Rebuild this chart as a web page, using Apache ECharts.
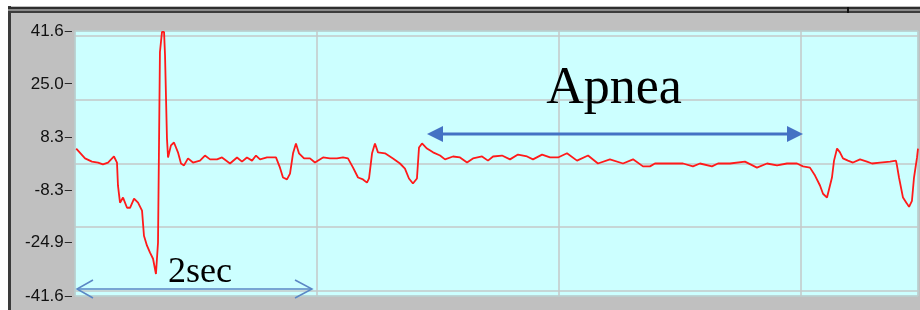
<!DOCTYPE html>
<html>
<head>
<meta charset="utf-8">
<script src="https://cdn.jsdelivr.net/npm/echarts@6/dist/echarts.min.js"></script>
<style>
  body { margin: 0; background: #fff; }
  #frame { position: absolute; left: 8px; top: 6px; width: 912px; height: 304px; background: #c0c0c0; border-left: 3px solid #3a3a3a; box-sizing: border-box; }
  #bar { position: absolute; left: 8px; top: 7px; width: 912px; height: 6px; background: #8a8a8a; border-top: 2px solid #2e2e2e; border-bottom: 2px solid #3c3c3c; box-sizing: border-box; }
  #cut { position: absolute; left: 847px; top: 7px; width: 2px; height: 6px; background: #111; }
  #main { position: absolute; left: 0; top: 0; width: 920px; height: 310px; }
</style>
</head>
<body>
<div id="frame"></div>
<div id="bar"></div>
<div id="cut"></div>
<div id="main"></div>
<script>
// time in seconds, signal
const times = [0.01, 0.025, 0.083, 0.140, 0.190, 0.231, 0.273, 0.322, 0.347, 0.355, 0.372, 0.397, 0.430, 0.455, 0.488, 0.521, 0.554, 0.570, 0.595, 0.620,
  0.645, 0.669, 0.686, 0.694, 0.702, 0.719, 0.736, 0.744, 0.760, 0.769, 0.793, 0.818, 0.851, 0.876, 0.901, 0.934, 0.975, 1.033, 1.074, 1.116,
  1.174, 1.215, 1.281, 1.339, 1.380, 1.421, 1.463, 1.496, 1.529, 1.587, 1.661, 1.694, 1.719, 1.752, 1.777, 1.802, 1.826, 1.851, 1.893, 1.942,
  1.983, 2.050, 2.107, 2.165, 2.215, 2.256, 2.298, 2.339, 2.380, 2.413, 2.430, 2.455, 2.479, 2.504, 2.562, 2.628, 2.686, 2.727, 2.760, 2.793,
  2.826, 2.843, 2.868, 2.909, 2.959, 3.017, 3.058, 3.124, 3.182, 3.240, 3.289, 3.364, 3.413, 3.455, 3.529, 3.595, 3.661, 3.736, 3.785, 3.860,
  3.926, 3.992, 4.066, 4.149, 4.240, 4.322, 4.421, 4.529, 4.612, 4.694, 4.752, 4.793, 4.917, 5.025, 5.107, 5.165, 5.264, 5.314, 5.413, 5.537,
  5.636, 5.719, 5.802, 5.884, 5.967, 6.017, 6.074, 6.116, 6.157, 6.182, 6.215, 6.231, 6.256, 6.273, 6.298, 6.322, 6.347, 6.388, 6.430, 6.488,
  6.545, 6.587, 6.653, 6.736, 6.785, 6.793, 6.810, 6.843, 6.876, 6.893, 6.917, 6.934, 6.959, 6.967];
const values = [4.7, 4.4, 1.6, 0.6, 0.3, -0.3, 0.3, 2.2, 0.3, -6.9, -12.3, -10.7, -13.9, -13.9, -11.0, -12.3, -14.8, -22.7, -25.8, -28.0,
  -29.9, -34.7, -24.9, 4.7, 35.0, 41.3, 41.3, 34.0, 7.9, 1.9, 5.7, 6.6, 3.5, 0.0, -0.6, 1.6, 0.3, 0.9, 2.5, 1.3,
  1.3, 1.9, 0.0, 1.9, 0.6, 1.9, 0.9, 2.5, 1.3, 1.9, 1.9, -1.3, -4.4, -5.0, -3.2, 3.2, 6.3, 3.2, 1.6, 1.6,
  0.3, 1.9, 1.6, 1.6, 1.9, 1.6, -1.3, -4.4, -5.0, -6.0, -4.7, 3.2, 6.3, 3.5, 3.2, 1.6, 0.0, -1.6, -4.7, -6.3,
  -4.7, 5.0, 6.3, 4.7, 3.5, 2.5, 1.3, 2.2, 1.9, 0.3, 1.6, 2.2, 0.9, 2.2, 2.5, 1.3, 2.8, 2.2, 1.3, 2.8,
  1.9, 1.9, 3.2, 0.9, 2.5, 0.0, 1.3, 0.0, 1.3, -0.9, -0.9, 0.0, 0.0, 0.0, -0.9, 0.0, -0.9, 0.0, 0.0, 0.6,
  -1.3, 0.0, -0.6, 0.0, 0.0, -0.9, -1.3, -3.8, -6.9, -9.5, -10.7, -10.1, -4.4, 0.9, 4.7, 3.5, 1.6, 0.9, 0.3, 1.3,
  0.6, 0.0, 0.3, 0.6, 0.9, -0.6, -4.4, -10.7, -12.6, -13.6, -11.7, -4.4, 1.9, 4.7];
const yTicks = [-41.6, -24.9, -8.3, 8.3, 25.0, 41.6];
const yLabels = ['-41.6', '-24.9', '-8.3', '8.3', '25.0', '41.6'];

const myChart = echarts.init(document.getElementById('main'));

const blue = '#4472c4';
const thin = '#5b87c5';

const option = {
  animation: false,
  grid: {
    left: 75, right: 2, top: 31, bottom: 14,
    show: true,
    backgroundColor: '#ccffff',
    borderColor: '#7ff5f5',
    borderWidth: 1
  },
  xAxis: {
    type: 'value',
    min: 0,
    max: 6.967,
    interval: 2,
    axisLine: {show: false},
    axisTick: {show: false},
    axisLabel: {show: false},
    splitLine: {lineStyle: {color: '#c4c8c8', width: 1.5}}
  },
  yAxis: {
    type: 'value',
    min: -41.6,
    max: 41.6,
    axisLine: {show: false},
    axisTick: {show: false},
    axisLabel: {
      customValues: yTicks,
      margin: 3,
      color: '#000',
      fontFamily: 'Liberation Sans',
      fontSize: 17,
      // the little dash after each number is the tick mark
      formatter: (v) => '{n|' + yLabels[yTicks.indexOf(v)] + '}{t|–}',
      rich: {
        n: {fontFamily: 'Liberation Sans', fontSize: 17, color: '#111'},
        t: {fontFamily: 'Liberation Sans', fontSize: 13, color: '#111', padding: [0, 0, 0, 1]}
      }
    },
    splitLine: {lineStyle: {color: '#c4c8c8', width: 1.5}}
  },
  series: [{
    type: 'line',
    data: times.map((t, i) => [t, values[i]]),
    showSymbol: false,
    lineStyle: {color: '#ff1a1a', width: 1.8},
    z: 3
  }],
  graphic: [
    // Apnea
    {type: 'text', z: 20,
      style: {text: 'Apnea', x: 614, y: 89, fontFamily: 'Liberation Serif', fontSize: 52, fill: '#000', align: 'center', verticalAlign: 'middle'}},
    {type: 'line', z: 20, shape: {x1: 438, y1: 134, x2: 792, y2: 134}, style: {stroke: blue, lineWidth: 3}},
    {type: 'polygon', z: 20, shape: {points: [[427, 134], [443, 126], [443, 142]]}, style: {fill: blue}},
    {type: 'polygon', z: 20, shape: {points: [[803, 134], [787, 126], [787, 142]]}, style: {fill: blue}},
    // 2sec
    {type: 'text', z: 20,
      style: {text: '2sec', x: 200, y: 273, fontFamily: 'Liberation Serif', fontSize: 36, fill: '#000', align: 'center', verticalAlign: 'middle'}},
    {type: 'line', z: 20, shape: {x1: 78, y1: 289, x2: 311, y2: 289}, style: {stroke: thin, lineWidth: 1.5}},
    {type: 'polyline', z: 20, shape: {points: [[93, 280], [77, 289], [93, 298]]}, style: {stroke: thin, lineWidth: 1.5, fill: null}},
    {type: 'polyline', z: 20, shape: {points: [[295, 280], [312, 289], [295, 298]]}, style: {stroke: thin, lineWidth: 1.5, fill: null}}
  ]
};
myChart.setOption(option);
</script>
</body>
</html>
